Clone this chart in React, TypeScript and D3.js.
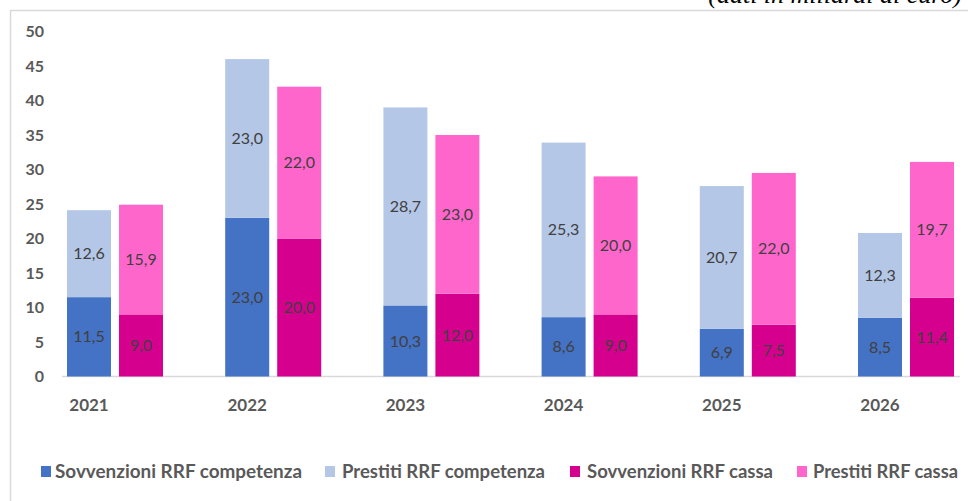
import React from "react";
import * as d3 from "d3";

const years = ["2021", "2022", "2023", "2024", "2025", "2026"];
const sovvCompetenza = [11.5, 23.0, 10.3, 8.6, 6.9, 8.5];
const prestitiCompetenza = [12.6, 23.0, 28.7, 25.3, 20.7, 12.3];
const sovvCassa = [9.0, 20.0, 12.0, 9.0, 7.5, 11.4];
const prestitiCassa = [15.9, 22.0, 23.0, 20.0, 22.0, 19.7];
const yTicks = [0, 5, 10, 15, 20, 25, 30, 35, 40, 45, 50];
const legendLabels = [
  "Sovvenzioni RRF competenza",
  "Prestiti RRF competenza",
  "Sovvenzioni RRF cassa",
  "Prestiti RRF cassa",
];
const colors = ["#4472C4", "#B4C7E7", "#D6008F", "#FF66CC"];
const unitNote = "(dati in miliardi di euro)";

const W = 968;
const H = 501;
const FONT = "Lato, 'Open Sans', sans-serif";

export default function App() {
  const y = d3.scaleLinear().domain([0, 50]).range([376.5, 31.5]);
  const x = d3.scaleBand<string>().domain(years).range([62, 62 + 6 * 158.2]).padding(0);
  const barW = 44;
  const off1 = 5;
  const off2 = 57;
  const fmt = (v: number) => d3.format(".1f")(v).replace(".", ",");

  const stacks = [
    { off: off1, parts: [sovvCompetenza, prestitiCompetenza], cols: [colors[0], colors[1]] },
    { off: off2, parts: [sovvCassa, prestitiCassa], cols: [colors[2], colors[3]] },
  ];

  const legendSq = [41, 325, 570, 797];
  const legendTx = [55, 342, 587, 813];
  const legendW = [247, 203, 186, 145];

  return (
    <svg width={W} height={H} style={{ position: "absolute", left: 0, top: 0, background: "#fff" }}>
      <rect x={10.5} y={10.5} width={W + 10} height={H + 10} fill="none" stroke="#D9D9D9" strokeWidth={1.5} />
      <text x={962} y={3} textAnchor="end" fontFamily="'Liberation Serif', serif" fontStyle="italic" fontSize={26} fill="#000">
        {unitNote}
      </text>
      {yTicks.map((t) => (
        <text key={t} x={44} y={y(t)} dy="0.35em" textAnchor="end" fontFamily={FONT} fontWeight="bold" fontSize={16} fill="#595959">
          {t}
        </text>
      ))}
      <line x1={62} x2={960} y1={376.5} y2={376.5} stroke="#D9D9D9" strokeWidth={1.5} />
      {years.map((yr, i) => {
        const bx = x(yr)!;
        return (
          <g key={yr}>
            {stacks.map((s, si) => {
              let base = 0;
              return (
                <g key={si}>
                  {s.parts.map((arr, pi) => {
                    const v = arr[i];
                    const y0 = y(base);
                    const y1 = y(base + v);
                    base += v;
                    return (
                      <g key={pi}>
                        <rect x={bx + s.off} y={y1} width={barW} height={y0 - y1} fill={s.cols[pi]} />
                        <text x={bx + s.off + barW / 2} y={(y0 + y1) / 2} dy="0.35em" textAnchor="middle" fontFamily={FONT} fontSize={16} fill="#404040">
                          {fmt(v)}
                        </text>
                      </g>
                    );
                  })}
                </g>
              );
            })}
            <text x={bx + off1 + barW / 2} y={405} dy="0.35em" textAnchor="middle" fontFamily={FONT} fontWeight="bold" fontSize={17} fill="#595959">
              {yr}
            </text>
          </g>
        );
      })}
      {legendLabels.map((l, i) => (
        <g key={l}>
          <rect x={legendSq[i]} y={466} width={10} height={11} fill={colors[i]} />
          <text
            x={legendTx[i]}
            y={471.5}
            dy="0.35em"
            fontFamily={FONT}
            fontWeight="bold"
            fontSize={18}
            fill="#595959"
            textLength={legendW[i]}
            lengthAdjust="spacingAndGlyphs"
          >
            {l}
          </text>
        </g>
      ))}
    </svg>
  );
}
